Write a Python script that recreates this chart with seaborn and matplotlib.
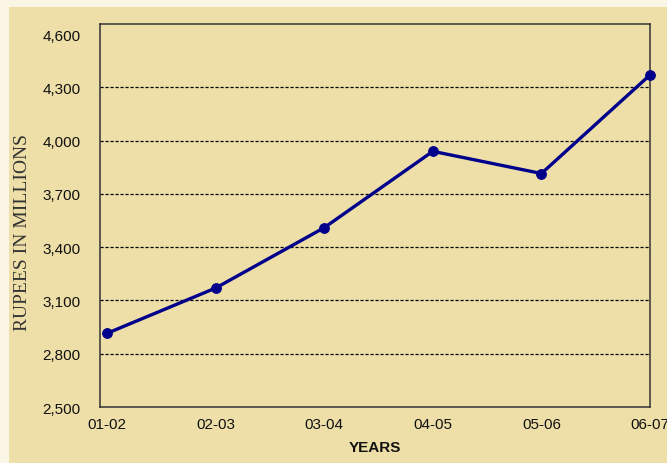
import matplotlib
matplotlib.use('Agg')
import matplotlib.pyplot as plt
import matplotlib.patches as mpatches
from matplotlib.ticker import FuncFormatter
import numpy as np
import pandas as pd
import seaborn as sns

## Data
years = ['01-02', '02-03', '03-04', '04-05', '05-06', '06-07']
rupees = [2915, 3170, 3510, 3940, 3815, 4370]
y_ticks = [2500, 2800, 3100, 3400, 3700, 4000, 4300, 4600]

beige = '#EEDFA8'
offwhite = '#FAF5E5'
navy = '#00008B'

df = pd.DataFrame({'pos': np.arange(len(years)), 'value': rupees})

sns.set_style('white')
plt.rcParams['font.family'] = ['Liberation Sans', 'DejaVu Sans']

fig = plt.figure(figsize=(6.67, 4.64), dpi=100)
fig.patch.set_facecolor(offwhite)
# beige panel behind the chart
panel = mpatches.Rectangle((9 / 667, 0), 1, 456 / 464, transform=fig.transFigure,
                           facecolor=beige, edgecolor='none', zorder=-10)
fig.add_artist(panel)

ax = fig.add_axes([100 / 667, 56 / 464, 550 / 667, 383 / 464])
ax.set_facecolor(beige)
ax.set_zorder(1)

# dashed grid lines
for t in y_ticks[1:-1]:
    ax.axhline(t, color='black', linestyle=(0, (2.5, 1.5)), linewidth=0.9, zorder=1)

sns.lineplot(data=df, x='pos', y='value', color=navy, linewidth=2.4,
             marker='o', markersize=7, markeredgecolor=navy, ax=ax, zorder=3, clip_on=False)

ax.set_xlim(-0.065, 5)
ax.set_ylim(2500, 4657)
ax.set_xticks(range(len(years)))
ax.set_xticklabels(years)
ax.set_yticks(y_ticks)
ax.yaxis.set_major_formatter(FuncFormatter(lambda v, p: f'{int(v):,}'))
ax.tick_params(axis='both', length=0, labelsize=11, colors='#111111')
ax.tick_params(axis='y', pad=14)
ax.tick_params(axis='x', pad=7)

for s in ax.spines.values():
    s.set_color('#333333')
    s.set_linewidth(1.1)

ax.set_xlabel('YEARS', fontsize=11, fontweight='bold', color='#111111')
ax.xaxis.set_label_coords(0.5, -0.085)
ax.set_ylabel('RUPEES IN MILLIONS', fontsize=14, family=['Liberation Serif', 'DejaVu Serif'],
              color='#333333')
ax.yaxis.set_label_coords(-0.125, 0.457)

fig.savefig('out.png', dpi=100, facecolor=fig.get_facecolor())
